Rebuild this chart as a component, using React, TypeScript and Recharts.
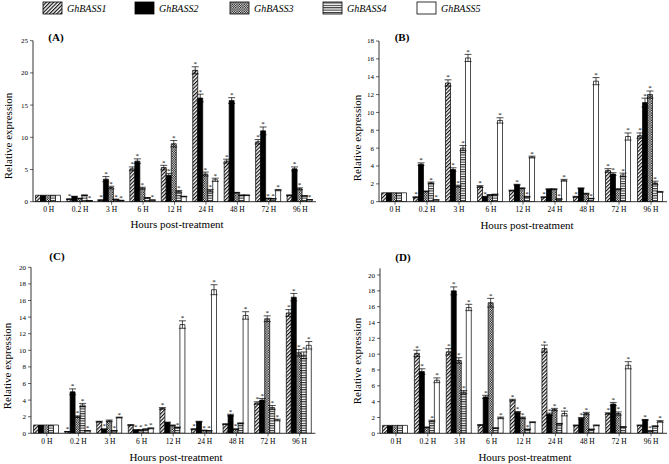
import React from "react";
import { BarChart, Bar, XAxis, YAxis, ErrorBar, LabelList } from "recharts";

const HOURS = ["0 H", "0.2 H", "3 H", "6 H", "12 H", "24 H", "48 H", "72 H", "96 H"];
const GENES = ["GhBASS1", "GhBASS2", "GhBASS3", "GhBASS4", "GhBASS5"];

// (A)
const A_S1 = [1, 0.4, 0.25, 5.1, 5.3, 20.4, 6.3, 9.3, 1.0];
const A_S2 = [1, 0.8, 3.5, 6.3, 4.1, 16.1, 15.7, 11.0, 5.1];
const A_S3 = [1, 0.5, 2.2, 2.1, 9.0, 4.3, 1.4, 0.5, 2.0];
const A_S4 = [1, 1.0, 0.35, 0.6, 1.6, 1.7, 1.0, 0.45, 0.9];
const A_S5 = [1, 0.15, 0.2, 0.25, 0.8, 3.4, 1.0, 1.8, 0.3];
const A_E1 = [0, 0.05, 0.05, 0.3, 0.35, 0.55, 0.3, 0.35, 0.05];
const A_E2 = [0, 0.05, 0.4, 0.35, 0.3, 0.6, 0.45, 0.6, 0.3];
const A_E3 = [0, 0.05, 0.2, 0.15, 0.5, 0.3, 0.05, 0.05, 0.15];
const A_E4 = [0, 0.05, 0.05, 0.05, 0.15, 0.2, 0.05, 0.05, 0.05];
const A_E5 = [0, 0.02, 0.02, 0.03, 0.05, 0.25, 0.05, 0.1, 0.03];
const A_K1 = [0, 1, 1, 1, 1, 1, 1, 1, 0];
const A_K2 = [0, 0, 1, 1, 1, 1, 1, 1, 1];
const A_K3 = [0, 0, 1, 1, 1, 1, 0, 1, 1];
const A_K4 = [0, 0, 1, 0, 1, 1, 0, 1, 0];
const A_K5 = [0, 1, 1, 1, 0, 1, 0, 1, 1];

// (B)
const B_S1 = [1, 0.5, 13.3, 1.7, 1.25, 0.5, 0.55, 3.5, 7.4];
const B_S2 = [1, 4.2, 3.6, 0.55, 1.9, 1.4, 1.5, 3.1, 11.1];
const B_S3 = [1, 1.15, 1.75, 0.75, 1.5, 1.4, 0.9, 1.4, 12.0];
const B_S4 = [1, 2.1, 6.0, 0.8, 0.55, 0.3, 0.35, 3.0, 2.1];
const B_S5 = [1, 0.2, 16.1, 9.1, 5.0, 2.4, 13.5, 7.3, 1.1];
const B_E1 = [0, 0.05, 0.35, 0.1, 0.05, 0.05, 0.05, 0.2, 0.3];
const B_E2 = [0, 0.15, 0.2, 0.05, 0.05, 0.05, 0.05, 0.15, 0.5];
const B_E3 = [0, 0.05, 0.1, 0.05, 0.05, 0.05, 0.05, 0.05, 0.4];
const B_E4 = [0, 0.1, 0.3, 0.05, 0.05, 0.03, 0.03, 0.2, 0.2];
const B_E5 = [0, 0.02, 0.4, 0.3, 0.1, 0.1, 0.4, 0.4, 0.05];
const B_K1 = [0, 1, 1, 1, 0, 1, 1, 1, 1];
const B_K2 = [0, 1, 1, 1, 1, 0, 0, 1, 1];
const B_K3 = [0, 0, 1, 0, 0, 0, 0, 0, 1];
const B_K4 = [0, 1, 1, 0, 1, 1, 1, 1, 1];
const B_K5 = [0, 1, 1, 1, 1, 1, 1, 1, 0];

// (C)
const C_S1 = [1, 0.2, 1.4, 1.0, 3.0, 0.5, 1.1, 3.65, 14.5];
const C_S2 = [1, 5.0, 0.5, 0.4, 1.3, 1.4, 2.2, 4.0, 16.4];
const C_S3 = [1, 2.0, 1.5, 0.4, 0.95, 0.35, 0.5, 13.8, 9.7];
const C_S4 = [1, 3.4, 0.3, 0.5, 0.7, 0.3, 1.2, 3.1, 9.4];
const C_S5 = [1, 0.3, 1.9, 0.6, 13.1, 17.3, 14.2, 1.6, 10.6];
const C_E1 = [0, 0.02, 0.05, 0.05, 0.1, 0.05, 0.05, 0.15, 0.4];
const C_E2 = [0, 0.35, 0.03, 0.03, 0.05, 0.05, 0.1, 0.2, 0.45];
const C_E3 = [0, 0.1, 0.1, 0.03, 0.05, 0.03, 0.03, 0.35, 0.4];
const C_E4 = [0, 0.2, 0.03, 0.03, 0.05, 0.03, 0.05, 0.25, 0.4];
const C_E5 = [0, 0.03, 0.05, 0.05, 0.45, 0.6, 0.45, 0.1, 0.45];
const C_K1 = [0, 1, 0, 0, 1, 1, 0, 1, 1];
const C_K2 = [0, 1, 1, 1, 0, 0, 1, 1, 1];
const C_K3 = [0, 1, 0, 1, 0, 1, 1, 1, 1];
const C_K4 = [0, 1, 1, 1, 1, 1, 0, 1, 1];
const C_K5 = [0, 1, 1, 1, 1, 1, 1, 1, 1];

// (D)
const D_S1 = [1, 10.1, 10.3, 1.05, 4.2, 10.7, 1.0, 2.5, 1.0];
const D_S2 = [1, 7.8, 18.0, 4.6, 2.65, 2.4, 1.9, 3.7, 1.7];
const D_S3 = [1, 0.75, 9.2, 16.5, 1.95, 3.0, 2.5, 2.5, 0.3];
const D_S4 = [1, 1.55, 5.2, 0.65, 0.5, 1.2, 0.5, 0.8, 0.9];
const D_S5 = [1, 6.7, 15.9, 1.95, 1.4, 2.5, 1.0, 8.6, 1.5];
const D_E1 = [0, 0.4, 0.4, 0.05, 0.1, 0.45, 0.05, 0.1, 0.05];
const D_E2 = [0, 0.35, 0.5, 0.2, 0.1, 0.15, 0.1, 0.2, 0.05];
const D_E3 = [0, 0.05, 0.35, 0.55, 0.1, 0.15, 0.15, 0.2, 0.02];
const D_E4 = [0, 0.1, 0.2, 0.05, 0.03, 0.05, 0.03, 0.05, 0.05];
const D_E5 = [0, 0.3, 0.4, 0.1, 0.05, 0.3, 0.05, 0.45, 0.1];
const D_K1 = [0, 1, 1, 0, 1, 1, 0, 1, 0];
const D_K2 = [0, 1, 1, 1, 1, 1, 1, 1, 1];
const D_K3 = [0, 0, 1, 1, 1, 1, 1, 1, 1];
const D_K4 = [0, 1, 1, 0, 1, 0, 0, 0, 0];
const D_K5 = [0, 1, 1, 1, 0, 1, 0, 1, 1];

const A_TICKS = [0, 5, 10, 15, 20, 25];
const B_TICKS = [0, 2, 4, 6, 8, 10, 12, 14, 16, 18];
const CD_TICKS = [0, 2, 4, 6, 8, 10, 12, 14, 16, 18, 20];

const FILLS = ["url(#pDiag)", "#000", "url(#pCheck)", "url(#pHoriz)", "#fff"];
const FONT = '"Liberation Serif", "Times New Roman", serif';

function buildRows(vals: number[][], errs: number[][], stars: number[][]) {
  return HOURS.map((h, i) => {
    const row: Record<string, string | number> = { hour: h };
    vals.forEach((v, s) => {
      row[`s${s}`] = v[i];
      row[`e${s}`] = errs[s][i];
      row[`k${s}`] = stars[s][i];
    });
    return row;
  });
}

function Patterns() {
  return (
    <defs>
      <pattern id="pDiag" width="2.6" height="2.6" patternUnits="userSpaceOnUse" patternTransform="rotate(45)">
        <rect width="2.6" height="2.6" fill="#fff" />
        <line x1="0.6" y1="0" x2="0.6" y2="2.6" stroke="#000" strokeWidth="1.1" />
      </pattern>
      <pattern id="pCheck" width="2.4" height="2.4" patternUnits="userSpaceOnUse">
        <rect width="2.4" height="2.4" fill="#fff" />
        <rect width="1.2" height="1.2" fill="#000" />
        <rect x="1.2" y="1.2" width="1.2" height="1.2" fill="#000" />
      </pattern>
      <pattern id="pHoriz" width="4" height="2.4" patternUnits="userSpaceOnUse">
        <rect width="4" height="2.4" fill="#fff" />
        <line x1="0" y1="0.6" x2="4" y2="0.6" stroke="#000" strokeWidth="0.9" />
      </pattern>
    </defs>
  );
}

// asterisk sits just above the error-bar cap; px per unit comes from the bar's own rendered height
function starRenderer(errs: number[], vals: number[]) {
  return (p: any) => {
    if (!p.value) return null;
    const v = vals[p.index];
    const pxPerUnit = v > 0 ? Math.abs(p.height) / v : 0;
    const top = p.y - errs[p.index] * pxPerUnit;
    return (
      <text
        x={p.x + p.width / 2}
        y={top - 0.5}
        textAnchor="middle"
        fontSize={7}
        fontFamily={FONT}
        fill="#000"
      >
        *
      </text>
    );
  };
}

type PanelProps = {
  left: number;
  top: number;
  width: number;
  height: number;
  margin: { top: number; right: number; bottom: number; left: number };
  yMax: number;
  ticks: number[];
  vals: number[][];
  errs: number[][];
  stars: number[][];
};

function Panel({ left, top, width, height, margin, yMax, ticks, vals, errs, stars }: PanelProps) {
  const rows = buildRows(vals, errs, stars);
  return (
    <div style={{ position: "absolute", left, top }}>
      <BarChart
        width={width}
        height={height}
        data={rows}
        margin={margin}
        barCategoryGap={2.5}
        barGap={0}
        style={{ overflow: "visible" }}
      >
        <XAxis
          dataKey="hour"
          interval={0}
          height={16}
          tickSize={3}
          tickMargin={2}
          tick={{ fontSize: 7.5, fill: "#000", fontFamily: FONT }}
          axisLine={{ stroke: "#000", strokeWidth: 0.8 }}
          tickLine={{ stroke: "#000", strokeWidth: 0.6 }}
        />
        <YAxis
          type="number"
          width={22}
          domain={[0, yMax]}
          ticks={ticks}
          allowDataOverflow
          interval={0}
          tickSize={3}
          tickMargin={2}
          tick={{ fontSize: 7, fill: "#000", fontFamily: FONT }}
          axisLine={{ stroke: "#000", strokeWidth: 0.8 }}
          tickLine={{ stroke: "#000", strokeWidth: 0.6 }}
        />
        {vals.map((v, s) => (
          <Bar
            key={s}
            dataKey={`s${s}`}
            name={GENES[s]}
            fill={FILLS[s]}
            stroke="#000"
            strokeWidth={0.7}
            isAnimationActive={false}
          >
            <ErrorBar dataKey={`e${s}`} width={3.5} stroke="#000" strokeWidth={0.7} direction="y" isAnimationActive={false} />
            <LabelList dataKey={`k${s}`} content={starRenderer(errs[s], v)} />
          </Bar>
        ))}
      </BarChart>
    </div>
  );
}

function Txt({ x, y, children, size = 12, bold = false, rotate = false }: any) {
  return (
    <div
      style={{
        position: "absolute",
        left: x,
        top: y,
        transform: `translate(-50%, -50%)${rotate ? " rotate(-90deg)" : ""}`,
        whiteSpace: "nowrap",
        fontSize: size,
        fontWeight: bold ? "bold" : "normal",
        fontFamily: FONT,
        color: "#000",
        lineHeight: 1,
      }}
    >
      {children}
    </div>
  );
}

const LEGEND_X = [43, 135, 230, 323, 417];

export default function App() {
  return (
    <div
      style={{
        position: "absolute",
        left: 0,
        top: 0,
        width: 669,
        height: 464,
        background: "#fff",
        overflow: "hidden",
        fontFamily: FONT,
      }}
    >
      <svg width={669} height={18} style={{ position: "absolute", left: 0, top: 0 }}>
        <Patterns />
        {GENES.map((g, i) => (
          <g key={g}>
            <rect x={LEGEND_X[i]} y={2} width={19} height={12} fill={FILLS[i]} stroke="#000" strokeWidth={0.8} />
            <text x={LEGEND_X[i] + 24} y={12} fontSize={10} fontStyle="italic" fontFamily={FONT} fill="#000">
              {g}
            </text>
          </g>
        ))}
      </svg>

      <Panel
        left={0}
        top={20}
        width={335}
        height={200}
        margin={{ top: 20.7, right: 19, bottom: 2.3, left: 11 }}
        yMax={25}
        ticks={A_TICKS}
        vals={[A_S1, A_S2, A_S3, A_S4, A_S5]}
        errs={[A_E1, A_E2, A_E3, A_E4, A_E5]}
        stars={[A_K1, A_K2, A_K3, A_K4, A_K5]}
      />
      <Panel
        left={335}
        top={20}
        width={334}
        height={200}
        margin={{ top: 21, right: 2, bottom: 2.3, left: 22 }}
        yMax={18}
        ticks={B_TICKS}
        vals={[B_S1, B_S2, B_S3, B_S4, B_S5]}
        errs={[B_E1, B_E2, B_E3, B_E4, B_E5]}
        stars={[B_K1, B_K2, B_K3, B_K4, B_K5]}
      />
      <Panel
        left={0}
        top={250}
        width={335}
        height={200}
        margin={{ top: 17.3, right: 19.6, bottom: 0.7, left: 9 }}
        yMax={20}
        ticks={CD_TICKS}
        vals={[C_S1, C_S2, C_S3, C_S4, C_S5]}
        errs={[C_E1, C_E2, C_E3, C_E4, C_E5]}
        stars={[C_K1, C_K2, C_K3, C_K4, C_K5]}
      />
      <Panel
        left={335}
        top={250}
        width={334}
        height={200}
        margin={{ top: 18.3, right: 2, bottom: 0.7, left: 23 }}
        yMax={20.85}
        ticks={CD_TICKS}
        vals={[D_S1, D_S2, D_S3, D_S4, D_S5]}
        errs={[D_E1, D_E2, D_E3, D_E4, D_E5]}
        stars={[D_K1, D_K2, D_K3, D_K4, D_K5]}
      />

      <Txt x={56} y={37} size={11} bold>(A)</Txt>
      <Txt x={402} y={37} size={11} bold>(B)</Txt>
      <Txt x={57} y={256} size={11} bold>(C)</Txt>
      <Txt x={403} y={257} size={11} bold>(D)</Txt>

      <Txt x={8} y={136} size={11} rotate>Relative expression</Txt>
      <Txt x={357} y={138} size={11} rotate>Relative expression</Txt>
      <Txt x={7} y={366} size={11} rotate>Relative expression</Txt>
      <Txt x={357} y={361} size={11} rotate>Relative expression</Txt>

      <Txt x={177} y={224} size={11}>Hours post-treatment</Txt>
      <Txt x={527} y={225} size={11}>Hours post-treatment</Txt>
      <Txt x={176} y={457} size={11}>Hours post-treatment</Txt>
      <Txt x={525} y={457} size={11}>Hours post-treatment</Txt>
    </div>
  );
}
